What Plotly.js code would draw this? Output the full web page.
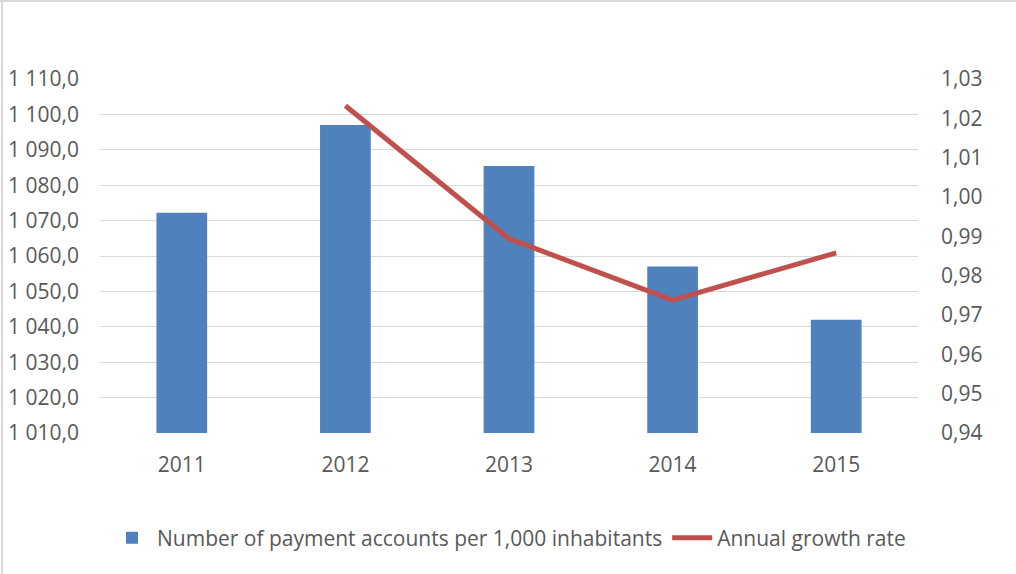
<!DOCTYPE html>
<html>
<head>
<meta charset="utf-8">
<script src="https://cdn.plot.ly/plotly-3.0.1.min.js"></script>
<style>
  html, body { margin: 0; padding: 0; background: #fff; }
  #wrap { position: relative; width: 1016px; height: 574px; }
  #chart { width: 1016px; height: 574px; }
  #bt { position: absolute; left: 0; top: 0; width: 1016px; height: 2px; background: #d9d9d9; }
  #bl { position: absolute; left: 1px; top: 0; width: 2px; height: 574px; background: #d9d9d9; }
</style>
</head>
<body>
<div id="wrap">
  <div id="chart"></div>
  <div id="bt"></div>
  <div id="bl"></div>
</div>
<script>
const years = ["2011", "2012", "2013", "2014", "2015"];
const accounts = [1072.2, 1097.0, 1085.4, 1057.0, 1042.0];
const growthYears = ["2012", "2013", "2014", "2015"];
const growth = [1.0232, 0.9894, 0.9738, 0.9858];

const font = { family: "'Open Sans', Lato, sans-serif", size: 21, color: "#595959" };

const traces = [
  {
    type: "bar",
    x: years,
    y: accounts,
    name: "Number of payment accounts per 1,000 inhabitants",
    marker: { color: "#4F81BD" },
    width: 0.31,
    hoverinfo: "x+y"
  },
  {
    type: "scatter",
    mode: "lines",
    x: growthYears,
    y: growth,
    yaxis: "y2",
    name: "Annual growth rate",
    line: { color: "#C0504D", width: 5 }
  }
];

const layout = {
  width: 1016,
  height: 574,
  margin: { l: 100, r: 98, t: 79, b: 141 },
  paper_bgcolor: "#ffffff",
  plot_bgcolor: "#ffffff",
  font: font,
  separators: ", ",
  showlegend: true,
  xaxis: {
    type: "category",
    categoryorder: "array",
    categoryarray: years,
    showgrid: false,
    zeroline: false,
    showline: false,
    ticks: "",
    ticklabelstandoff: 17,
    tickfont: font
  },
  yaxis: {
    range: [1010, 1110],
    dtick: 10,
    tick0: 1010,
    tickformat: ",.1f",
    showgrid: true,
    gridcolor: "#d9d9d9",
    gridwidth: 1,
    zeroline: false,
    showline: false,
    ticks: "",
    ticklabelstandoff: 20,
    tickfont: font
  },
  yaxis2: {
    overlaying: "y",
    side: "right",
    range: [0.94, 1.03],
    dtick: 0.01,
    tick0: 0.94,
    tickformat: ".2f",
    showgrid: false,
    zeroline: false,
    showline: false,
    ticks: "",
    ticklabelstandoff: 22,
    tickfont: font
  },
  legend: {
    orientation: "h",
    x: 0.5,
    xanchor: "center",
    y: -0.297,
    yanchor: "middle",
    font: font,
    itemwidth: 40,
    traceorder: "normal",
    bgcolor: "rgba(0,0,0,0)"
  },
  bargap: 0.69
};

Plotly.newPlot("chart", traces, layout, { displayModeBar: false, responsive: false });
</script>
</body>
</html>
